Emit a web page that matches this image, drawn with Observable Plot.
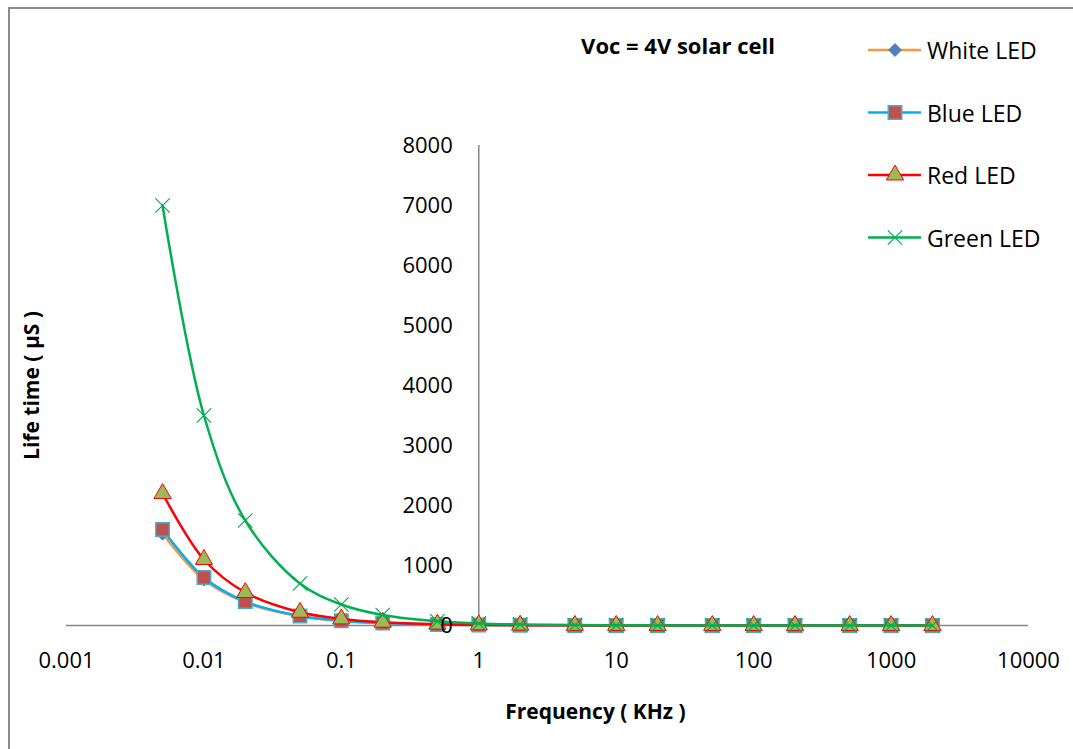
<!DOCTYPE html>
<html>
<head>
<meta charset="utf-8">
<script src="https://cdn.jsdelivr.net/npm/d3@7"></script>
<script src="https://cdn.jsdelivr.net/npm/@observablehq/plot@0.6"></script>
<style>
  body { margin: 0; background: #fff; font-family: "Open Sans", sans-serif; }
  #wrap { position: relative; width: 1073px; height: 749px; overflow: hidden; background: #fff; }
  #border { position: absolute; left: 8px; top: 7px; width: 1200px; height: 900px;
            border-top: 2px solid #8c8c8c; border-left: 2px solid #8c8c8c; }
  #wrap svg { position: absolute; left: 0; top: 0; }
</style>
</head>
<body>
<div id="wrap"><div id="border"></div></div>
<script>
// ---- data ----
const freq  = [0.005, 0.01, 0.02, 0.05, 0.1, 0.2, 0.5, 1, 2, 5, 10, 20, 50, 100, 200, 500, 1000, 2000];
const white = [1530, 765, 383, 153, 77, 38, 15, 7.7, 3.8, 1.5, 0.77, 0.38, 0.15, 0.08, 0.04, 0.015, 0.008, 0.004];
const blue  = [1600, 800, 400, 160, 80, 40, 16, 8, 4, 1.6, 0.8, 0.4, 0.16, 0.08, 0.04, 0.016, 0.008, 0.004];
const red   = [2200, 1100, 550, 220, 110, 55, 22, 11, 5.5, 2.2, 1.1, 0.55, 0.22, 0.11, 0.055, 0.022, 0.011, 0.0055];
const green = [7000, 3500, 1750, 700, 350, 175, 70, 35, 17.5, 7, 3.5, 1.75, 0.7, 0.35, 0.175, 0.07, 0.035, 0.0175];
const seriesNames = ["White LED", "Blue LED", "Red LED", "Green LED"];
const xTicks = [0.001, 0.01, 0.1, 1, 10, 100, 1000, 10000];
const xTickLabels = ["0.001", "0.01", "0.1", "1", "10", "100", "1000", "10000"];
const yTicks = [0, 1000, 2000, 3000, 4000, 5000, 6000, 7000, 8000];
const titleText = "Voc = 4V solar cell";
const xLabel = "Frequency ( KHz )";
const yLabel = "Life time ( µS )";

// ---- styles ----
const axisColor = "#868686";
const styles = [
  {line: "#F79646", symbol: "diamond2", fill: "#4F81BD", stroke: "#4F81BD", r: 5.8, sw: 1},
  {line: "#00B0F0", symbol: "square", fill: "#C0504D", stroke: "#4BACC6", r: 7.6, sw: 1.5},
  {line: "#FF0000", symbol: "triangle", fill: "#9BBB59", stroke: "#FF0000", r: 6.4, sw: 1},
  {line: "#00B050", symbol: "times", fill: "none", stroke: "#00B050", r: 6.6, sw: 1.2}
];
const values = [white, blue, red, green];
const rowsOf = vs => freq.map((f, i) => ({f, v: vs[i]}));

const seriesMarks = values.flatMap((vs, k) => {
  const s = styles[k];
  const rows = rowsOf(vs);
  return [
    Plot.line(rows, {x: "f", y: "v", stroke: s.line, strokeWidth: 2.5, curve: "catmull-rom"}),
    Plot.dot(rows, {x: "f", y: "v", symbol: s.symbol, r: s.r,
      fill: s.symbol === "times" ? null : s.fill, stroke: s.stroke, strokeWidth: s.sw})
  ];
});

const chart = Plot.plot({
  width: 1073, height: 749,
  marginLeft: 66, marginRight: 45, marginTop: 145, marginBottom: 124,
  style: {fontFamily: "'Open Sans', sans-serif", background: "transparent", color: "#000"},
  x: {type: "log", domain: [0.001, 10000], axis: null},
  y: {domain: [0, 8000], axis: null},
  marks: [
    Plot.ruleY([0], {x1: () => 0.001, x2: () => 10000, stroke: axisColor, strokeWidth: 1.5}),
    Plot.ruleX([1], {y1: () => 0, y2: () => 8000, stroke: axisColor, strokeWidth: 1.5}),
    Plot.axisX(xTicks, {tickSize: 0, tickPadding: 27, fontSize: 22, label: null,
      tickFormat: d => xTickLabels[xTicks.indexOf(d)]}),
    ...seriesMarks,
    Plot.text(yTicks, {x: () => 1, y: d => d, text: d => String(d), textAnchor: "end", dx: -26, fontSize: 22, fill: "#000"}),
    Plot.text([xLabel], {frameAnchor: "bottom", text: d => d, textAnchor: "middle", lineAnchor: "middle",
      dx: 48, dy: 87, fontSize: 21, fontWeight: "bold", fill: "#000"}),
    Plot.text([yLabel], {frameAnchor: "left", text: d => d, rotate: -90, textAnchor: "middle", lineAnchor: "middle",
      dx: -34, dy: 0, fontSize: 21, fontWeight: "bold", fill: "#000"})
  ]
});
document.getElementById("wrap").appendChild(chart);

// ---- title & legend overlay ----
const ov = d3.select("#wrap").append("svg")
  .attr("width", 1073).attr("height", 749)
  .style("font-family", "'Open Sans', sans-serif");
ov.append("text").attr("x", 678).attr("y", 45)
  .attr("text-anchor", "middle").attr("dominant-baseline", "central")
  .attr("font-size", 22).attr("font-weight", "bold").text(titleText);

const symMap = {diamond2: d3.symbolDiamond2, square: d3.symbolSquare, triangle: d3.symbolTriangle, times: d3.symbolTimes};
seriesNames.forEach((name, k) => {
  const s = styles[k];
  const y = 50 + 62.5 * k;
  const g = ov.append("g");
  g.append("line").attr("x1", 868).attr("x2", 921).attr("y1", y).attr("y2", y)
    .attr("stroke", s.line).attr("stroke-width", 2.5);
  g.append("path")
    .attr("transform", `translate(895,${y})`)
    .attr("d", d3.symbol(symMap[s.symbol], Math.PI * s.r * s.r)())
    .attr("fill", s.symbol === "times" ? "none" : s.fill)
    .attr("stroke", s.stroke).attr("stroke-width", s.sw);
  g.append("text").attr("x", 927).attr("y", y).attr("dominant-baseline", "central")
    .attr("font-size", 23).text(name);
});
</script>
</body>
</html>
